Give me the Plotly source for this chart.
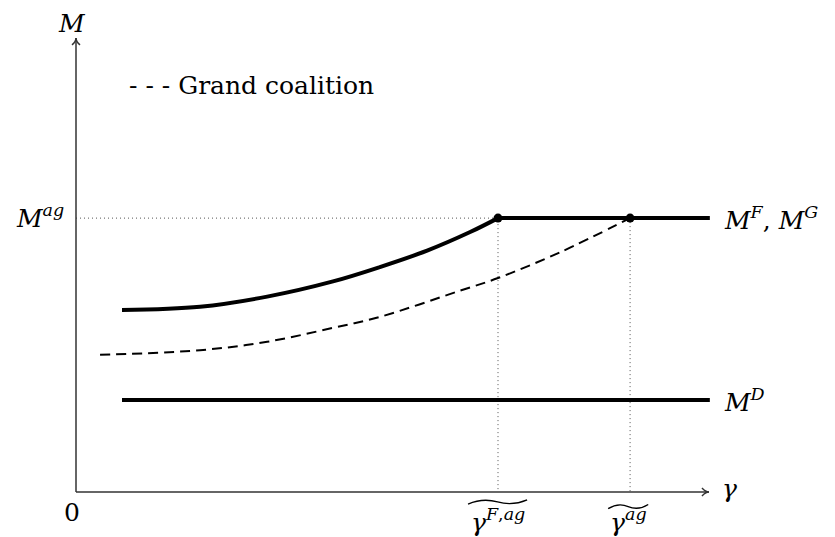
import plotly.graph_objects as go

# ---- data ----
solid_x = [1.09, 2.94, 4.53, 6.09, 7.20, 8.32, 9.34, 10.0, 15.02]
solid_y = [4.31, 4.39, 4.63, 4.99, 5.33, 5.72, 6.16, 6.49, 6.49]
dash_x = [0.57, 2.94, 4.53, 6.09, 7.20, 9.10, 10.0, 11.47, 13.13]
dash_y = [3.25, 3.36, 3.56, 3.89, 4.15, 4.77, 5.07, 5.68, 6.49]
md_x = [1.09, 15.02]
md_y = [2.18, 2.18]
m_ag = 6.49
gamma_F_ag = 10.0
gamma_ag = 13.13
x_axis_end = 15.0
y_axis_end = 10.76

SCALE = 42.2  # px per unit
W, H = 835, 537
PAGE_OFF = 8  # default body margin of the html page
OX, OY = 76 - PAGE_OFF, 492 - PAGE_OFF
FONT = "DejaVu Serif"
FS = 25

fig = go.Figure()

# dotted guides
dot_line = dict(color="#555", width=1, dash="1px,3px")
fig.add_trace(go.Scatter(x=[0, gamma_F_ag, gamma_F_ag], y=[m_ag, m_ag, 0], mode="lines",
                         line=dot_line, hoverinfo="skip"))
fig.add_trace(go.Scatter(x=[gamma_ag, gamma_ag], y=[m_ag, 0], mode="lines",
                         line=dot_line, hoverinfo="skip"))

# curves
fig.add_trace(go.Scatter(x=dash_x, y=dash_y, mode="lines", line=dict(color="black", width=2, dash="10px,6px", shape="spline", smoothing=1.0)))
fig.add_trace(go.Scatter(x=solid_x[:-1], y=solid_y[:-1], mode="lines", line=dict(color="black", width=4, shape="spline", smoothing=1.0)))
fig.add_trace(go.Scatter(x=solid_x[-2:], y=solid_y[-2:], mode="lines", line=dict(color="black", width=4)))
fig.add_trace(go.Scatter(x=md_x, y=md_y, mode="lines", line=dict(color="black", width=4)))
fig.add_trace(go.Scatter(x=[gamma_F_ag, gamma_ag], y=[m_ag, m_ag], mode="markers",
                         marker=dict(color="black", size=9)))

# axes
ax_line = dict(color="#333", width=1.5)
fig.add_shape(type="line", x0=0, y0=0, x1=x_axis_end, y1=0, line=ax_line)
fig.add_shape(type="line", x0=0, y0=0, x1=0, y1=y_axis_end, line=ax_line)
ah = 7 / SCALE
aw = 4 / SCALE
fig.add_shape(type="path", path=f"M {-aw},{y_axis_end-ah} Q 0,{y_axis_end-ah*0.5} 0,{y_axis_end} Q 0,{y_axis_end-ah*0.5} {aw},{y_axis_end-ah}", line=ax_line)
fig.add_shape(type="path", path=f"M {x_axis_end-ah},{aw} Q {x_axis_end-ah*0.5},0 {x_axis_end},0 Q {x_axis_end-ah*0.5},0 {x_axis_end-ah},{-aw}", line=ax_line)

# tildes
def tilde(x0, x1, yc, amp):
    xm = (x0 + x1) / 2
    return f"M {x0},{yc-amp} Q {(x0+xm)/2},{yc+amp*2} {xm},{yc} T {x1},{yc+amp}"
fig.add_shape(type="path", path=tilde(9.29, 10.69, -0.235, 0.05), line=dict(color="black", width=1.3))
fig.add_shape(type="path", path=tilde(12.61, 13.56, -0.345, 0.05), line=dict(color="black", width=1.3))

def px2x(px):
    return (px - 76) / SCALE
def py2y(py):
    return (492 - py) / SCALE

ann = [
    dict(x=px2x(72), y=py2y(23), text="<i>M</i>", xanchor="center", yanchor="middle"),
    dict(x=px2x(72), y=py2y(512), text="0", xanchor="center", yanchor="middle"),
    dict(x=px2x(66), y=py2y(216), text="<i>M</i><sup><i>ag</i></sup>", xanchor="right", yanchor="middle"),
    dict(x=px2x(722), y=py2y(218), text="<i>M</i><sup><i>F</i></sup>, <i>M</i><sup><i>G</i></sup>", xanchor="left", yanchor="middle"),
    dict(x=px2x(722), y=py2y(400), text="<i>M</i><sup><i>D</i></sup>", xanchor="left", yanchor="middle"),
    dict(x=px2x(720), y=py2y(488), text="<i>γ</i>", xanchor="left", yanchor="middle"),
    dict(x=px2x(498), y=py2y(520), text="<i>γ</i><sup><i>F</i>,<i>ag</i></sup>", xanchor="center", yanchor="middle"),
    dict(x=px2x(628), y=py2y(520), text="<i>γ</i><sup><i>ag</i></sup>", xanchor="center", yanchor="middle"),
    dict(x=px2x(127), y=py2y(85), text="- - - Grand coalition", xanchor="left", yanchor="middle"),
]
for a in ann:
    fig.add_annotation(xref="x", yref="y", showarrow=False, font=dict(family=FONT, size=FS, color="black"), **a)

fig.update_layout(
    width=W, height=H, margin=dict(l=0, r=0, t=0, b=0),
    paper_bgcolor="white", plot_bgcolor="white", showlegend=False,
    font=dict(family=FONT),
    xaxis=dict(range=[-OX / SCALE, (W - OX) / SCALE], visible=False, fixedrange=True),
    yaxis=dict(range=[-(H - OY) / SCALE, OY / SCALE], visible=False, fixedrange=True),
)
fig.write_html("out.html")
